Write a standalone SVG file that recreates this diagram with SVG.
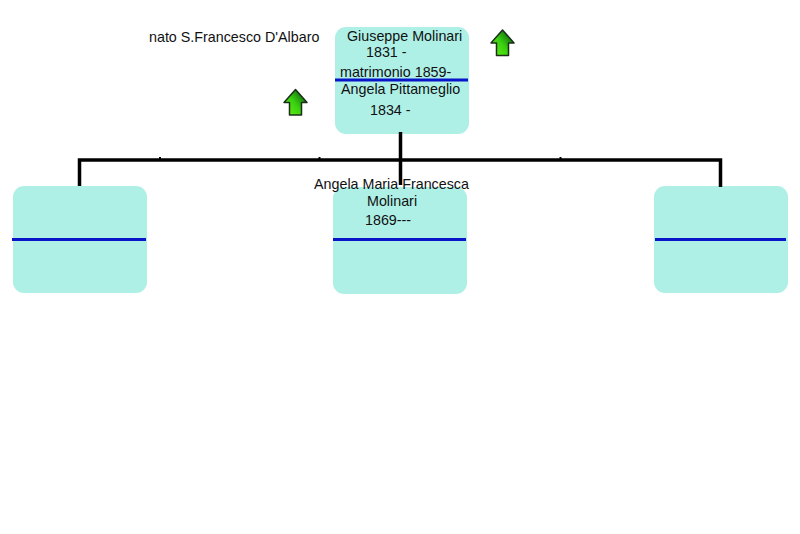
<svg xmlns="http://www.w3.org/2000/svg" width="800" height="534" viewBox="0 0 800 534">
<style>
.box{fill:#aef0e6}
.div{stroke:#0a14c8;stroke-width:3;fill:none}
.conn{stroke:#000;stroke-width:3.500;fill:none}
text{font-family:"Liberation Sans",Arial,sans-serif;font-size:14.300px;fill:#111}
.arrow{stroke:#1a2e1a;stroke-width:1.500;fill:url(#g);stroke-linejoin:round}
</style>
<defs>
<linearGradient id="g" x1="0" y1="0.9" x2="0.9" y2="0.1">
<stop offset="0" stop-color="#66f010"/>
<stop offset="0.5" stop-color="#38d010"/>
<stop offset="1" stop-color="#0c5a10"/>
</linearGradient>
<path id="up" d="M0 -13 L11.500 0 L6 0 L6 12.500 L-6 12.500 L-6 0 L-11.500 0 Z"/>
</defs>
<rect width="800" height="534" fill="#fff"/>
<g id="node-top">
<rect class="box" x="335" y="27" width="134" height="107" rx="11"/>
<line class="div" x1="335" y1="80" x2="468" y2="80"/>
<text x="347" y="41">Giuseppe Molinari</text>
<text x="366" y="57">1831 -</text>
<text x="340" y="77">matrimonio 1859-</text>
<text x="341" y="94">Angela Pittameglio</text>
<text x="370" y="115">1834 -</text>
</g>
<g id="node-left">
<rect class="box" x="13" y="186" width="134" height="107" rx="11"/>
<line class="div" x1="12" y1="239.500" x2="146" y2="239.500"/>
</g>
<g id="node-center">
<rect class="box" x="333" y="187" width="134" height="107" rx="11"/>
<line class="div" x1="333" y1="239.500" x2="466" y2="239.500"/>
</g>
<g id="node-right">
<rect class="box" x="654" y="186" width="134" height="107" rx="11"/>
<line class="div" x1="655" y1="239.500" x2="786" y2="239.500"/>
</g>
<g id="connectors">
<path class="conn" d="M400.500 132V185M79.500 186V160H720.500V187"/>
<path d="M160 160v-3M319.500 160v-3M560.500 160v-3" stroke="#000" stroke-width="2" fill="none"/>
</g>
<g id="labels">
<text x="149" y="42">nato S.Francesco D'Albaro</text>
<text x="314" y="189">Angela Maria Francesca</text>
<text x="367" y="206">Molinari</text>
<text x="365" y="225">1869---</text>
</g>
<g id="arrow-right"><use href="#up" class="arrow" transform="translate(502.500 43)"/></g>
<g id="arrow-left"><use href="#up" class="arrow" transform="translate(295.500 102.500)"/></g>
</svg>
